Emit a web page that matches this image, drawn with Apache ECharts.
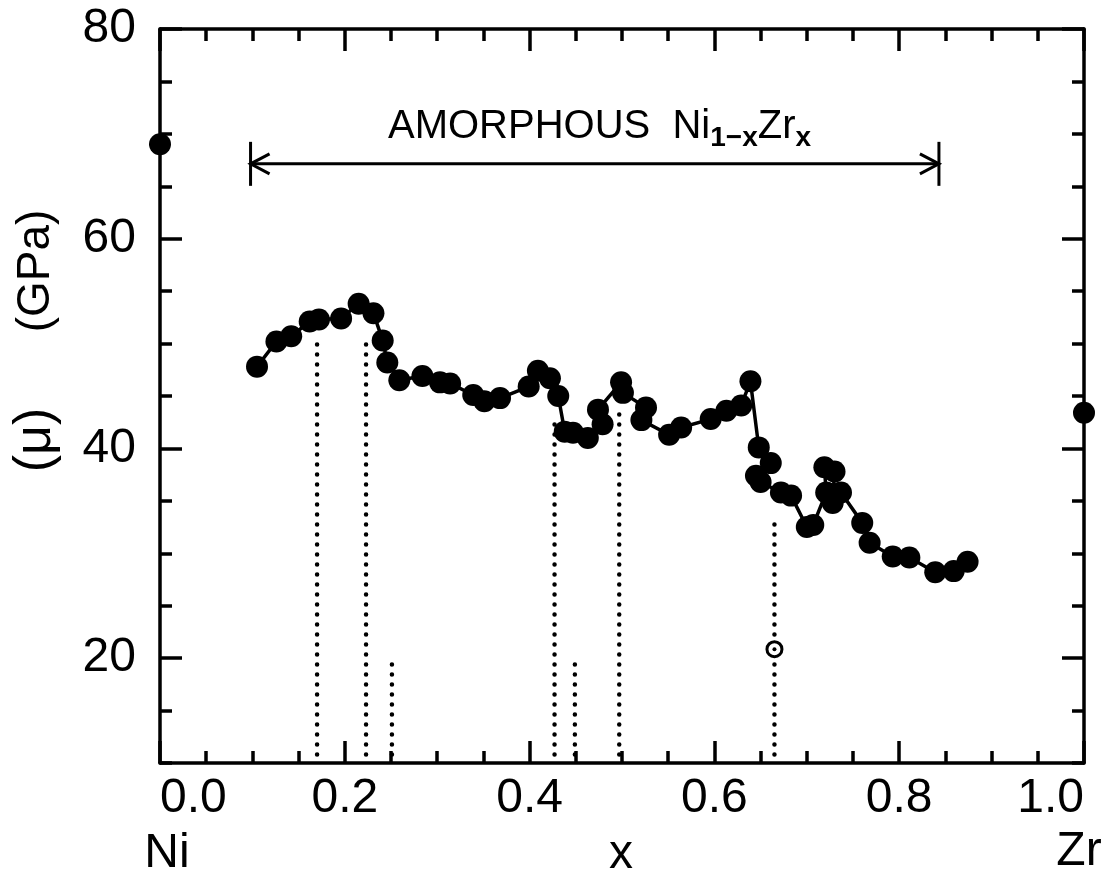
<!DOCTYPE html>
<html><head><meta charset="utf-8">
<script src="https://cdn.jsdelivr.net/npm/echarts@6/dist/echarts.min.js"></script>
<style>html,body{margin:0;padding:0;background:#fff}#c{width:1106px;height:878px}</style>
</head><body><div id="c"></div>
<script>
// ---- data ----
const mainX = [0.105,0.126,0.142,0.162,0.172,0.196,0.215,0.231,0.241,0.246,0.259,0.284,0.303,0.314,0.339,0.351,0.368,0.399,0.409,0.422,0.431,0.438,0.447,0.463,0.479,0.474,0.499,0.501,0.526,0.521,0.551,0.564,0.596,0.613,0.629,0.639,0.648,0.661,0.645,0.650,0.672,0.683,0.700,0.707,0.721,0.719,0.730,0.728,0.737,0.760,0.768,0.793,0.811,0.839,0.859,0.874];
const mainY = [47.8,50.2,50.7,52.1,52.3,52.4,53.8,52.9,50.3,48.2,46.5,46.9,46.3,46.2,45.1,44.5,44.8,45.9,47.4,46.7,45.0,41.6,41.5,41.0,42.3,43.7,46.3,45.3,43.9,42.7,41.3,42.0,42.8,43.6,44.1,46.4,40.1,38.6,37.4,36.8,35.8,35.5,32.5,32.7,35.8,38.2,37.8,34.8,35.8,32.9,31.0,29.7,29.6,28.2,28.3,29.2];
const endX = [0.0, 1.0];          // pure Ni, pure Zr
const endY = [69.0, 43.4];
const dropX = [0.170, 0.223, 0.251, 0.427, 0.449, 0.497, 0.665];
const dropTop = [50.2, 50.2, 19.8, 42.8, 19.8, 43.7, 33.3];
const dropBottom = 10.8;
const openX = [0.665];
const openY = [20.85];
const arrowX = [0.098, 0.843];
const arrowY = 67.14;
const xTickLabels = [0.0, 0.2, 0.4, 0.6, 0.8, 1.0];
const yTickLabels = [20, 40, 60, 80];
const yMajorTicks = [20, 40, 60, 80];

const FONT = "'Liberation Sans', Arial, Helvetica, sans-serif";
const BLACK = '#000';

const chart = echarts.init(document.getElementById('c'), null, {renderer: 'canvas'});

function xAxisDef(pos, labels) {
  return {
    type: 'value', position: pos, min: 0, max: 1, interval: 0.2,
    axisLine: {show: true, onZero: false, lineStyle: {color: BLACK, width: 3.5}},
    axisTick: {show: true, inside: true, length: 22, lineStyle: {color: BLACK, width: 3.5}},
    minorTick: {show: true, splitNumber: 4, length: 12, lineStyle: {color: BLACK, width: 3.5}},
    splitLine: {show: false}, minorSplitLine: {show: false},
    axisLabel: labels ? {
      show: true, customValues: xTickLabels, color: BLACK, fontSize: 48, fontFamily: FONT,
      margin: 12, alignMinLabel: 'left', alignMaxLabel: 'right',
      formatter: v => v.toFixed(1)
    } : {show: false}
  };
}
function yMajor(pos, labels) {
  return {
    type: 'value', position: pos, min: 10, max: 80,
    axisLine: {show: true, onZero: false, lineStyle: {color: BLACK, width: 3.5}},
    axisTick: {show: true, inside: true, length: 22, customValues: yMajorTicks, lineStyle: {color: BLACK, width: 3.5}},
    splitLine: {show: false},
    axisLabel: labels ? {
      show: true, customValues: yTickLabels, color: BLACK, fontSize: 48, fontFamily: FONT, margin: 24
    } : {show: false}
  };
}
function yMinor(pos) {
  return {
    type: 'value', position: pos, min: 10, max: 80, interval: 5,
    axisLine: {show: false, onZero: false},
    axisTick: {show: true, inside: true, length: 12, lineStyle: {color: BLACK, width: 3.5}},
    splitLine: {show: false}, axisLabel: {show: false}
  };
}

const dropSeries = dropX.map((x, i) => ({
  type: 'line', xAxisIndex: 0, yAxisIndex: 0, z: 1, silent: true,
  data: [[x, dropBottom], [x, dropTop[i]]],
  symbol: 'none',
  lineStyle: {color: BLACK, width: 4.5, type: [0.1, 9.9], cap: 'round', opacity: 1}
}));

const option = {
  animation: false,
  backgroundColor: '#fff',
  grid: {left: 160, right: 22, top: 29, bottom: 115, containLabel: false, outerBoundsMode: 'none'},
  xAxis: [xAxisDef('bottom', true), xAxisDef('top', false)],
  yAxis: [yMajor('left', true), yMinor('left'), yMajor('right', false), yMinor('right')],
  graphic: [
    {type: 'text', left: 388, top: 107, z: 10, style: {
      text: '{m|AMORPHOUS  Ni}{s|1\u2212x}{m|Zr}{s|x}',
      rich: {
        m: {fontSize: 40, fontFamily: FONT, fill: BLACK, lineHeight: 45, verticalAlign: 'top'},
        s: {fontSize: 28, fontWeight: 'bold', fontFamily: FONT, fill: BLACK, lineHeight: 22, verticalAlign: 'bottom'}
      }
    }},
    {type: 'text', x: 36, y: 271, rotation: Math.PI / 2, style: {text: '(GPa)', font: '46px ' + FONT, fill: BLACK, textAlign: 'center', textVerticalAlign: 'middle'}},
    {type: 'text', x: 36, y: 440, rotation: Math.PI / 2, style: {text: '(\u03bc)', font: '52px ' + FONT, fill: BLACK, textAlign: 'center', textVerticalAlign: 'middle'}},
    {type: 'text', x: 167, y: 854, style: {text: 'Ni', font: '48px ' + FONT, fill: BLACK, textAlign: 'center', textVerticalAlign: 'middle'}},
    {type: 'text', x: 621, y: 855, style: {text: 'x', font: '48px ' + FONT, fill: BLACK, textAlign: 'center', textVerticalAlign: 'middle'}},
    {type: 'text', x: 1079, y: 852, style: {text: 'Zr', font: '48px ' + FONT, fill: BLACK, textAlign: 'center', textVerticalAlign: 'middle'}}
  ],
  series: [
    ...dropSeries,
    {
      type: 'line', xAxisIndex: 0, yAxisIndex: 0, z: 3,
      data: mainX.map((x, i) => [x, mainY[i]]),
      symbol: 'circle', symbolSize: 22, showSymbol: true,
      itemStyle: {color: BLACK, opacity: 1},
      lineStyle: {color: BLACK, width: 3.5}
    },
    {
      type: 'scatter', xAxisIndex: 0, yAxisIndex: 0, z: 3, clip: false,
      data: endX.map((x, i) => [x, endY[i]]),
      symbol: 'circle', symbolSize: 22, itemStyle: {color: BLACK, opacity: 1}
    },
    {
      type: 'scatter', xAxisIndex: 0, yAxisIndex: 0, z: 4,
      data: openX.map((x, i) => [x, openY[i]]),
      symbol: 'circle', symbolSize: 15,
      itemStyle: {color: '#fff', borderColor: BLACK, borderWidth: 3, opacity: 1}
    },
    {
      type: 'scatter', xAxisIndex: 0, yAxisIndex: 0, z: 5,
      data: openX.map((x, i) => [x, openY[i]]),
      symbol: 'circle', symbolSize: 4, itemStyle: {color: BLACK, opacity: 1}
    },
    {
      type: 'custom', xAxisIndex: 0, yAxisIndex: 0, z: 3,
      encode: {x: [0, 2], y: 1},
      data: [[arrowX[0], arrowY, arrowX[1]]],
      renderItem: function (params, api) {
        const p0 = api.coord([api.value(0), api.value(1)]);
        const p1 = api.coord([api.value(2), api.value(1)]);
        const st = {stroke: BLACK, lineWidth: 3, fill: null};
        const h = 22, a = 19, b = 10;
        return {type: 'group', children: [
          {type: 'line', shape: {x1: p0[0], y1: p0[1], x2: p1[0], y2: p1[1]}, style: st},
          {type: 'line', shape: {x1: p0[0], y1: p0[1] - h, x2: p0[0], y2: p0[1] + h}, style: st},
          {type: 'line', shape: {x1: p1[0], y1: p1[1] - h, x2: p1[0], y2: p1[1] + h}, style: st},
          {type: 'polyline', shape: {points: [[p0[0] + a, p0[1] - b], [p0[0], p0[1]], [p0[0] + a, p0[1] + b]]}, style: st},
          {type: 'polyline', shape: {points: [[p1[0] - a, p1[1] - b], [p1[0], p1[1]], [p1[0] - a, p1[1] + b]]}, style: st}
        ]};
      }
    }
  ]
};
chart.setOption(option);
</script>
</body></html>
